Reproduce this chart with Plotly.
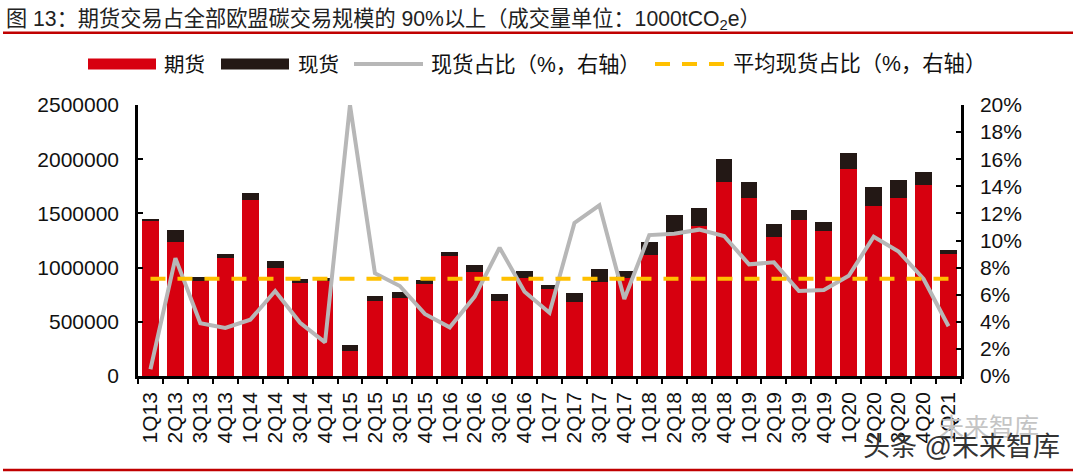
import plotly.graph_objects as go

quarters = ["1Q13","2Q13","3Q13","4Q13","1Q14","2Q14","3Q14","4Q14","1Q15","2Q15","3Q15","4Q15",
            "1Q16","2Q16","3Q16","4Q16","1Q17","2Q17","3Q17","4Q17","1Q18","2Q18","3Q18","4Q18",
            "1Q19","2Q19","3Q19","4Q19","1Q20","2Q20","3Q20","4Q20","1Q21"]
futures = [1430000,1235000,880000,1085000,1620000,1000000,860000,880000,230000,690000,720000,850000,
           1105000,960000,695000,905000,800000,680000,867000,907000,1113000,1300000,1384000,1787000,
           1639000,1285000,1436000,1335000,1910000,1565000,1639000,1759000,1122000]
totals = [1445000,1350000,910000,1125000,1690000,1065000,895000,900000,285000,740000,775000,890000,
          1145000,1020000,760000,965000,835000,763000,987000,968000,1239000,1485000,1550000,1999000,
          1787000,1405000,1528000,1420000,2060000,1746000,1805000,1885000,1165000]
spot = [t - f for t, f in zip(totals, futures)]
spot_share = [0.5,8.7,3.9,3.55,4.15,6.27,3.93,2.48,20.0,7.58,6.64,4.58,3.59,5.86,9.47,6.22,4.67,
              11.3,12.6,5.68,10.4,10.5,10.8,10.33,8.24,8.39,6.27,6.35,7.4,10.28,9.18,7.16,3.67]
avg_share = [7.18] * len(quarters)

W, H = 1075, 475
L, R, T, B = 138, 961, 105, 376.5
CJK = "Liberation Sans, Noto Sans CJK SC, sans-serif"
INK = "#111111"
RED, DARK, GREY, GOLD = "#d7000f", "#231815", "#b7b7b7", "#ffc000"


def px(x):
    return (x - L) / (R - L)


def py(y):
    return (B - y) / (B - T)


fig = go.Figure()
fig.add_bar(x=quarters, y=futures, name="期货", marker_color=RED, marker_line_width=0, showlegend=False)
fig.add_bar(x=quarters, y=spot, name="现货", marker_color=DARK, marker_line_width=0, showlegend=False)
fig.add_scatter(x=quarters, y=spot_share, name="现货占比（%，右轴）", yaxis="y2", mode="lines",
                line=dict(color=GREY, width=4), showlegend=False)
fig.add_scatter(x=quarters, y=avg_share, name="平均现货占比（%，右轴）", yaxis="y2", mode="lines",
                line=dict(color=GOLD, width=4, dash="15px,12px"), showlegend=False)

shapes = [
    dict(type="line", x0=px(3), x1=px(1073), y0=py(32.7), y1=py(32.7), line=dict(color="#c00000", width=2.5)),
    dict(type="line", x0=px(3), x1=px(1073), y0=py(470.7), y1=py(470.7), line=dict(color="#c00000", width=2.5)),
    dict(type="rect", x0=px(88), x1=px(156), y0=py(58.5), y1=py(69.5), fillcolor=RED, line_width=0),
    dict(type="rect", x0=px(221), x1=px(289), y0=py(58.5), y1=py(69.5), fillcolor=DARK, line_width=0),
    dict(type="line", x0=px(354), x1=px(423), y0=py(64), y1=py(64), line=dict(color=GREY, width=4)),
    dict(type="line", x0=px(655), x1=px(725), y0=py(64), y1=py(64), line=dict(color=GOLD, width=4, dash="15px,12px")),
]
for s in shapes:
    s["xref"] = "paper"
    s["yref"] = "paper"


def label(text, x, y, size, color=INK):
    return dict(text=text, x=px(x), y=py(y), xref="paper", yref="paper", xanchor="left", yanchor="middle",
                showarrow=False, font=dict(family=CJK, size=size, color=color), align="left")


annotations = [
    label("图 13：期货交易占全部欧盟碳交易规模的 90%以上（成交量单位：1000tCO<sub>2</sub>e）", 4, 20, 21.2, "#222222"),
    label("期货", 162, 64, 20.5),
    label("现货", 296, 64, 20.5),
    label("现货占比（%，右轴）", 429, 64, 21.2),
    label("平均现货占比（%，右轴）", 731, 64, 21.3),
    label("未来智库", 937, 428, 25, "#c4c4c4"),
    label("头条 @未来智库", 861, 448, 27, "#333333"),
]

axis_font = dict(family="Liberation Sans, Arial, sans-serif", size=21, color=INK)
fig.update_layout(
    width=W, height=H, autosize=False,
    margin=dict(l=L, r=W - R, t=T, b=H - B, pad=0),
    paper_bgcolor="white", plot_bgcolor="white",
    barmode="stack", bargap=0.33, showlegend=False,
    shapes=shapes, annotations=annotations,
    xaxis=dict(type="category", categoryorder="array", categoryarray=quarters, tickmode="array",
               tickvals=quarters, ticktext=quarters, tickson="boundaries", ticks="outside", ticklen=5,
               tickwidth=2, tickcolor="black", showline=True, linecolor="black", linewidth=2.5,
               showgrid=False, tickangle=-90, tickfont=axis_font, ticklabelstandoff=5,
               range=[-0.5, len(quarters) - 0.5]),
    yaxis=dict(range=[0, 2500000], tickmode="array", tickvals=[0,500000,1000000,1500000,2000000,2500000],
               ticktext=["0","500000","1000000","1500000","2000000","2500000"], ticks="inside", ticklen=5,
               tickwidth=2, tickcolor="black", showline=True, linecolor="black", linewidth=2.5,
               showgrid=False, zeroline=False, tickfont=axis_font, ticklabelstandoff=12),
    yaxis2=dict(range=[0, 20], overlaying="y", side="right", tickmode="array",
                tickvals=list(range(0, 21, 2)), ticktext=[f"{v}%" for v in range(0, 21, 2)],
                ticks="inside", ticklen=5, tickwidth=2, tickcolor="black", showline=True, linecolor="black",
                linewidth=2.5, showgrid=False, zeroline=False, tickfont=axis_font, ticklabelstandoff=12),
)
fig.write_html("out.html", config={"displayModeBar": False}, post_script="document.body.style.margin='0';")
